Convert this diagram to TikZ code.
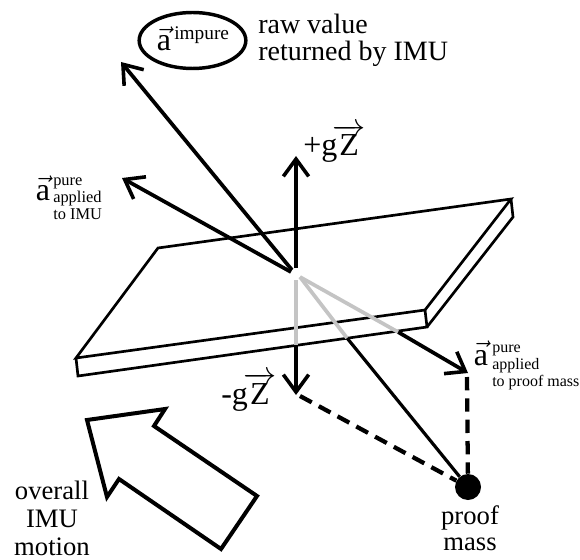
\documentclass[tikz,border=0pt]{standalone}
\usepackage{fontspec}
\setmainfont{Liberation Serif}
\usetikzlibrary{positioning,arrows.meta,shapes.geometric}
\definecolor{ghostgray}{HTML}{C4C4C4}
\newcommand{\veca}{$\vec{\mathrm{a}}$}
\newcommand{\vecz}{\hspace{-3.5pt}$\overrightarrow{\mathrm{Z}}$}

\begin{document}
\begin{tikzpicture}[x=0.75pt, y=-0.75pt,
    plate/.style={draw, line width=2pt, line join=miter},
    vecarr/.style={-{Straight Barb[length=13pt, width=19pt, line width=2.7pt]}, line width=2.8pt},
    ghost/.style={draw=ghostgray, line width=2.8pt},
    dashline/.style={line width=3.2pt, dash pattern=on 10pt off 6pt},
    big/.style={font=\fontsize{21}{20}\selectfont, align=left, inner sep=0pt},
    mid/.style={font=\fontsize{20}{20}\selectfont, align=center, inner sep=0pt},
    vsym/.style={font=\fontsize{24}{24}\selectfont, inner sep=0pt},
    small/.style={font=\fontsize{12.3}{12.6}\selectfont, align=left, inner sep=0pt}]
  \useasboundingbox (0,0) rectangle (580,559);
  % plate
  \draw[plate] (158,248) -- (511,199) -- (425,310) -- (76,358) -- cycle;
  \draw[plate] (76,358) -- (78,376) -- (427,327) -- (425,310);
  \draw[plate] (427,327) -- (513,217) -- (511,199);
  % named points
  \coordinate (upA)    at (121,62);
  \coordinate (upB)    at (122,178);
  \coordinate (upZ)    at (296,156);
  \coordinate (downZ)  at (296,395);
  \coordinate (downE)  at (296,345);
  \coordinate (grayZ)  at (296,280);
  \coordinate (grayM)  at (300,277);
  \coordinate (edgeP)  at (398,332);
  \coordinate (edgeM)  at (347,338);
  \coordinate (pureP)  at (468,373);
  \coordinate (dashP)  at (467,377);
  \coordinate (dashZ)  at (300,396);
  \coordinate (baseA)  at (292,270);
  \coordinate (baseB)  at (291,272);
  \coordinate (baseZ)  at (296,268);
  \node[circle, fill=black, inner sep=0pt, minimum size=19.5pt] (mass) at (468,487) {};
  % vectors
  \draw[vecarr] (baseA) -- (upA);
  \draw[vecarr] (baseB) -- (upB);
  \draw[vecarr] (baseZ) -- (upZ);
  \draw[vecarr] (downE) -- (downZ);
  \draw[vecarr] (edgeP) -- (pureP);
  \draw[line width=2.4pt] (edgeM) -- (mass);
  \draw[ghost] (grayZ) -- (downE);
  \draw[ghost] (grayM) -- (edgeP);
  \draw[ghost] (grayM) -- (edgeM);
  \draw[dashline] (dashP) -- (mass);
  \draw[dashline] (dashZ) -- (mass);
  % big motion arrow
  \draw[line width=3pt, line join=miter] (87,420) -- (165,409) -- (154,426) -- (257,496) -- (221,549) -- (119,479) -- (107,497) -- cycle;
  % labels
  \node[draw, ellipse, line width=2.6pt, minimum width=80pt, minimum height=42pt, inner sep=0pt] (impure) at (192.5,40.5) {};
  \node[vsym, anchor=base] (aimp) at (164,51) {\veca};
  \node[font=\fontsize{14.5}{14}\selectfont, inner sep=0pt, anchor=base west] (impl) at (174,40) {impure};
  \node[big, anchor=north west] (raw) at (258,14) {raw value\\returned by IMU};
  \node[vsym, anchor=base] (apure) at (43,200) {\veca};
  \node[small, anchor=north west] (pimu) at (53,178) {pure\\applied\\to IMU};
  \node[vsym, anchor=base] (apm) at (481,365) {\veca};
  \node[small, anchor=north west, font=\fontsize{12}{12.6}\selectfont] (ppm) at (492,345) {pure\\applied\\to proof mass};
  \node[font=\fontsize{24}{24}\selectfont, inner sep=0pt, anchor=base west] (plus) at (303,156) {+g\vecz};
  \node[font=\fontsize{24}{24}\selectfont, inner sep=0pt, anchor=base west] (minus) at (221,404) {-g\vecz};
  \node[mid, anchor=north, font=\fontsize{20}{21}\selectfont] (motion) at (52,481) {overall\\IMU\\motion};
  \node[mid, anchor=north] (pmass) at (470,505) {proof\\mass};
\end{tikzpicture}
\end{document}
